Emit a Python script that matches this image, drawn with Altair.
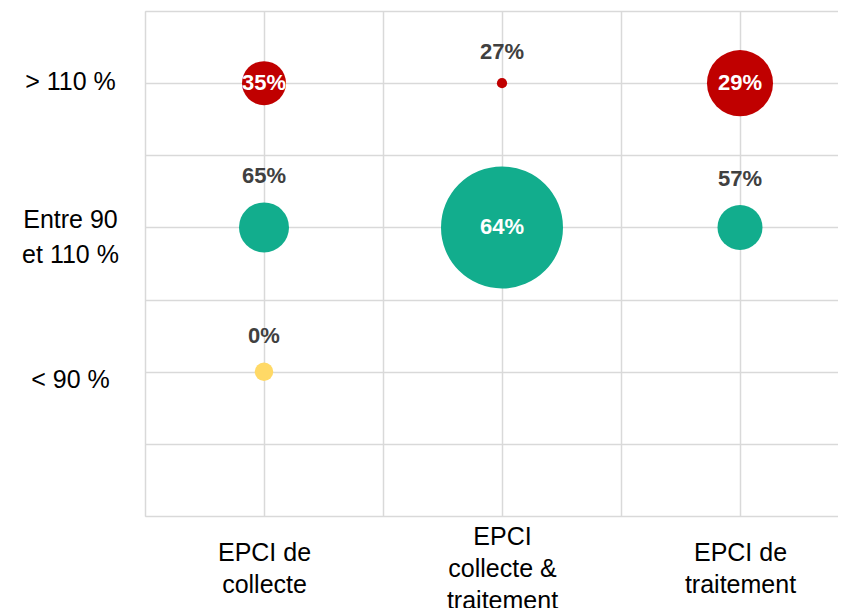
import altair as alt
import pandas as pd
import json

# Catégories (axe X) et niveaux (axe Y)
structures = ["EPCI de collecte", "EPCI collecte & traitement", "EPCI de traitement"]
structures_lignes = [["EPCI de", "collecte"], ["EPCI", "collecte &", "traitement"], ["EPCI de", "traitement"]]
niveaux = ["< 90 %", "Entre 90 et 110 %", "> 110 %"]
niveaux_lignes = [["< 90 %"], ["Entre 90", "et 110 %"], ["> 110 %"]]

# Bulles
pt_structure = ["EPCI de collecte", "EPCI de collecte", "EPCI de collecte",
                "EPCI collecte & traitement", "EPCI collecte & traitement",
                "EPCI de traitement", "EPCI de traitement"]
pt_niveau = ["> 110 %", "Entre 90 et 110 %", "< 90 %",
             "> 110 %", "Entre 90 et 110 %",
             "> 110 %", "Entre 90 et 110 %"]
pt_label = ["35%", "65%", "0%", "27%", "64%", "29%", "57%"]
pt_taille = [13, 16.8, 2.3, 0.7, 100, 29.3, 13.6]
pt_interne = [True, False, False, False, True, True, False]

couleurs = {"> 110 %": "#C00000", "Entre 90 et 110 %": "#12AD8D", "< 90 %": "#FFD966"}

df = pd.DataFrame({
    "structure": pt_structure,
    "niveau": pt_niveau,
    "label": pt_label,
    "taille": pt_taille,
    "interne": pt_interne,
})
df["xpos"] = [structures.index(s) + 0.5 for s in df["structure"]]
df["ypos"] = [2 * (niveaux.index(n) + 1) for n in df["niveau"]]

W, H = 693, 505
YMAX = 7
XMAX = W / 238
SIZE_MAX = 14884  # aire (px²) de la plus grosse bulle
PX_PER_UNIT = H / YMAX

font_axis = "Liberation Sans, Arial, sans-serif"
font_lab = "Liberation Sans, Arial, sans-serif"

def expr_from(values, lines):
    parts = []
    for v, l in zip(values, lines):
        parts.append(f"datum.value == {v} ? {json.dumps(l, ensure_ascii=False)}")
    return " : ".join(parts) + " : ''"

x_vals = [i + 0.5 for i in range(len(structures))]
y_vals = [2 * (i + 1) for i in range(len(niveaux))]
x_expr = expr_from(x_vals, structures_lignes)
y_expr = expr_from(y_vals, niveaux_lignes)

# décalages des étiquettes multi-lignes (centrage vertical)
x_pad_cond = {"condition": [{"test": f"datum.value == {v}", "value": 53 - 16.5 * (len(l) - 1)}
                            for v, l in zip(x_vals, structures_lignes)], "value": 52}
y_off_cond = {"condition": [{"test": "datum.value == 2", "value": 8},
                            {"test": "datum.value == 4", "value": -8},
                            {"test": "datum.value == 6", "value": -2}], "value": 0}

x_enc = alt.X("xpos:Q",
              scale=alt.Scale(domain=[0, XMAX], nice=False, zero=False),
              axis=alt.Axis(values=[0, 0.5, 1, 1.5, 2, 2.5], title=None, ticks=False, domain=False,
                            grid=True, gridColor="#D9D9D9", gridWidth=1.5,
                            labelExpr=x_expr, labelFont=font_axis, labelFontSize=25,
                            labelColor="#000000", labelAlign="center", labelBaseline="middle",
                            labelPadding=x_pad_cond, labelLineHeight=32, labelOverlap=False,
                            labelFlush=False, labelBound=False))
y_enc = alt.Y("ypos:Q",
              scale=alt.Scale(domain=[0, YMAX], nice=False, zero=False),
              axis=alt.Axis(values=list(range(YMAX + 1)), title=None, ticks=False, domain=False,
                            grid=True, gridColor="#D9D9D9", gridWidth=1.5,
                            labelExpr=y_expr, labelFont=font_axis, labelFontSize=25,
                            labelColor="#000000", labelAlign="center", labelBaseline="middle",
                            labelPadding=75, labelOffset=y_off_cond, labelLineHeight=35,
                            labelOverlap=False, labelFlush=False, labelBound=False))

base = alt.Chart(df)

bulles = base.mark_circle(opacity=1).encode(
    x=x_enc,
    y=y_enc,
    size=alt.Size("taille:Q", scale=alt.Scale(domain=[0, 100], range=[0, SIZE_MAX], zero=True), legend=None),
    color=alt.Color("niveau:N", scale=alt.Scale(domain=list(couleurs.keys()), range=list(couleurs.values())), legend=None),
)

textes = base.transform_calculate(
    ylab=f"datum.interne ? datum.ypos : datum.ypos + (sqrt(datum.taille / 100 * {SIZE_MAX}) / 2 + 26) / {PX_PER_UNIT}",
    tcol="datum.interne ? '#FFFFFF' : '#404040'",
).mark_text(font=font_lab, fontSize=22, fontWeight="bold", baseline="middle", align="center").encode(
    x=alt.X("xpos:Q"),
    y=alt.Y("ylab:Q"),
    text="label:N",
    color=alt.Color("tcol:N", scale=None),
)

chart = alt.layer(bulles, textes).properties(
    width=W, height=H,
    autosize=alt.AutoSizeParams(type="none"),
    padding={"left": 137, "top": 3, "right": 0, "bottom": 92},
).configure_view(stroke=None).configure(background="white")

chart.save("out.html", embed_options={"renderer": "svg", "actions": False})
